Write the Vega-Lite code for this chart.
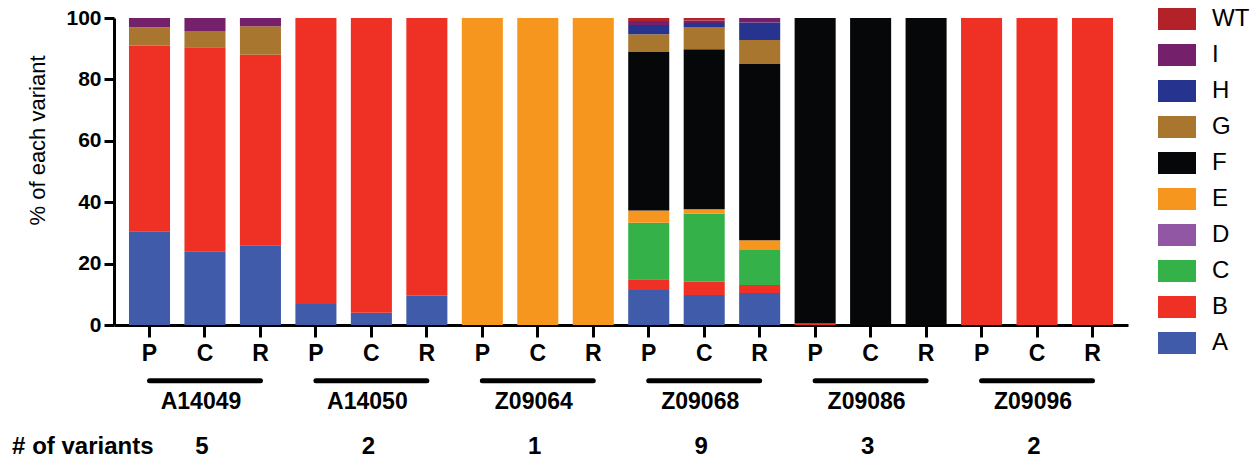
{
  "$schema": "https://vega.github.io/schema/vega-lite/v6.json",
  "width": 1014,
  "height": 307,
  "autosize": {"type": "none"},
  "padding": {"left": 114, "top": 18, "right": 132, "bottom": 138},
  "background": "white",
  "config": {
    "view": {"stroke": null},
    "font": "Liberation Sans",
    "axis": {"domainColor": "black", "tickColor": "black", "labelColor": "black", "titleColor": "black", "grid": false}
  },
  "datasets": {
    "bars": [
      {"sample": "A14049 P", "variant": "A", "pct": 30.5},
      {"sample": "A14049 P", "variant": "B", "pct": 60.5},
      {"sample": "A14049 P", "variant": "G", "pct": 6.0},
      {"sample": "A14049 P", "variant": "I", "pct": 3.0},
      {"sample": "A14049 C", "variant": "A", "pct": 24.0},
      {"sample": "A14049 C", "variant": "B", "pct": 66.5},
      {"sample": "A14049 C", "variant": "G", "pct": 5.3},
      {"sample": "A14049 C", "variant": "I", "pct": 4.2},
      {"sample": "A14049 R", "variant": "A", "pct": 26.0},
      {"sample": "A14049 R", "variant": "B", "pct": 62.0},
      {"sample": "A14049 R", "variant": "G", "pct": 9.3},
      {"sample": "A14049 R", "variant": "I", "pct": 2.7},
      {"sample": "A14050 P", "variant": "A", "pct": 6.8},
      {"sample": "A14050 P", "variant": "B", "pct": 93.2},
      {"sample": "A14050 C", "variant": "A", "pct": 4.0},
      {"sample": "A14050 C", "variant": "B", "pct": 96.0},
      {"sample": "A14050 R", "variant": "A", "pct": 9.5},
      {"sample": "A14050 R", "variant": "B", "pct": 90.5},
      {"sample": "Z09064 P", "variant": "E", "pct": 100},
      {"sample": "Z09064 C", "variant": "E", "pct": 100},
      {"sample": "Z09064 R", "variant": "E", "pct": 100},
      {"sample": "Z09068 P", "variant": "A", "pct": 11.4},
      {"sample": "Z09068 P", "variant": "B", "pct": 3.5},
      {"sample": "Z09068 P", "variant": "C", "pct": 18.4},
      {"sample": "Z09068 P", "variant": "E", "pct": 4.0},
      {"sample": "Z09068 P", "variant": "F", "pct": 51.6},
      {"sample": "Z09068 P", "variant": "G", "pct": 5.8},
      {"sample": "Z09068 P", "variant": "H", "pct": 3.0},
      {"sample": "Z09068 P", "variant": "I", "pct": 1.3},
      {"sample": "Z09068 P", "variant": "WT", "pct": 1.0},
      {"sample": "Z09068 C", "variant": "A", "pct": 9.8},
      {"sample": "Z09068 C", "variant": "B", "pct": 4.3},
      {"sample": "Z09068 C", "variant": "C", "pct": 22.2},
      {"sample": "Z09068 C", "variant": "E", "pct": 1.4},
      {"sample": "Z09068 C", "variant": "F", "pct": 52.1},
      {"sample": "Z09068 C", "variant": "G", "pct": 7.1},
      {"sample": "Z09068 C", "variant": "H", "pct": 1.5},
      {"sample": "Z09068 C", "variant": "I", "pct": 0.8},
      {"sample": "Z09068 C", "variant": "WT", "pct": 0.8},
      {"sample": "Z09068 R", "variant": "A", "pct": 10.4},
      {"sample": "Z09068 R", "variant": "B", "pct": 2.6},
      {"sample": "Z09068 R", "variant": "C", "pct": 11.4},
      {"sample": "Z09068 R", "variant": "E", "pct": 3.2},
      {"sample": "Z09068 R", "variant": "F", "pct": 57.4},
      {"sample": "Z09068 R", "variant": "G", "pct": 7.8},
      {"sample": "Z09068 R", "variant": "H", "pct": 5.7},
      {"sample": "Z09068 R", "variant": "I", "pct": 1.5},
      {"sample": "Z09086 P", "variant": "B", "pct": 0.5},
      {"sample": "Z09086 P", "variant": "F", "pct": 99.5},
      {"sample": "Z09086 C", "variant": "F", "pct": 100},
      {"sample": "Z09086 R", "variant": "F", "pct": 100},
      {"sample": "Z09096 P", "variant": "B", "pct": 100},
      {"sample": "Z09096 C", "variant": "B", "pct": 100},
      {"sample": "Z09096 R", "variant": "B", "pct": 100}
    ],
    "groups": [
      {"group": "A14049", "first": "A14049 P", "mid": "A14049 C", "last": "A14049 R", "variants": "5"},
      {"group": "A14050", "first": "A14050 P", "mid": "A14050 C", "last": "A14050 R", "variants": "2"},
      {"group": "Z09064", "first": "Z09064 P", "mid": "Z09064 C", "last": "Z09064 R", "variants": "1"},
      {"group": "Z09068", "first": "Z09068 P", "mid": "Z09068 C", "last": "Z09068 R", "variants": "9"},
      {"group": "Z09086", "first": "Z09086 P", "mid": "Z09086 C", "last": "Z09086 R", "variants": "3"},
      {"group": "Z09096", "first": "Z09096 P", "mid": "Z09096 C", "last": "Z09096 R", "variants": "2"}
    ],
    "caption": [
      {"sample": "A14049 P", "text": "# of variants"}
    ]
  },
  "layer": [
    {
      "data": {"name": "bars"},
      "mark": {"type": "bar"},
      "encoding": {
        "x": {
          "field": "sample",
          "type": "nominal",
          "scale": {
            "domain": ["A14049 P", "A14049 C", "A14049 R", "A14050 P", "A14050 C", "A14050 R", "Z09064 P", "Z09064 C", "Z09064 R", "Z09068 P", "Z09068 C", "Z09068 R", "Z09086 P", "Z09086 C", "Z09086 R", "Z09096 P", "Z09096 C", "Z09096 R"],
            "paddingInner": 0.26,
            "paddingOuter": 0.27
          },
          "axis": {
            "title": null,
            "labelExpr": "slice(datum.label, -1)",
            "labelAngle": 0,
            "labelFontSize": 23,
            "labelFontWeight": "bold",
            "labelPadding": 5,
            "domainWidth": 3,
            "tickWidth": 3,
            "tickSize": 12
          }
        },
        "y": {
          "field": "pct",
          "type": "quantitative",
          "stack": "zero",
          "scale": {"domain": [0, 100], "nice": false},
          "axis": {
            "title": "% of each variant",
            "titleFontSize": 22,
            "titleFontWeight": "normal",
            "titlePadding": 16,
            "titleY": 122,
            "values": [0, 20, 40, 60, 80, 100],
            "labelFontSize": 21,
            "labelFontWeight": "bold",
            "labelPadding": 3,
            "domainWidth": 3,
            "tickWidth": 3,
            "tickSize": 10
          }
        },
        "color": {
          "field": "variant",
          "type": "nominal",
          "scale": {
            "domain": ["WT", "I", "H", "G", "F", "E", "D", "C", "B", "A"],
            "range": ["#b22228", "#74206a", "#27348f", "#a8762e", "#050709", "#f7961f", "#9257a4", "#35b14a", "#ee3124", "#3f5ba9"]
          },
          "legend": {
            "title": null,
            "orient": "none",
            "legendX": 1044,
            "legendY": -18,
            "padding": 0,
            "symbolType": "M-1,-0.58H1V0.58H-1Z",
            "symbolSize": 1444,
            "symbolStrokeWidth": 0,
            "symbolOpacity": 1,
            "rowPadding": 5,
            "labelFontSize": 24,
            "labelColor": "black",
            "labelOffset": 16,
            "labelFont": "Liberation Sans"
          }
        },
        "order": {"field": "variant", "type": "nominal", "sort": "ascending"}
      }
    },
    {
      "data": {"name": "groups"},
      "mark": {"type": "rule", "strokeWidth": 5, "strokeCap": "round", "color": "black"},
      "encoding": {
        "x": {"field": "first", "type": "nominal"},
        "x2": {"field": "last"},
        "y": {"datum": -18.2}
      }
    },
    {
      "data": {"name": "groups"},
      "mark": {"type": "text", "fontSize": 23, "fontWeight": "bold", "color": "black", "baseline": "middle", "align": "center", "dx": -4},
      "encoding": {
        "x": {"field": "mid", "type": "nominal"},
        "y": {"datum": -25},
        "text": {"field": "group"}
      }
    },
    {
      "data": {"name": "groups"},
      "mark": {"type": "text", "fontSize": 24, "fontWeight": "bold", "color": "black", "baseline": "middle", "align": "center", "dx": -3},
      "encoding": {
        "x": {"field": "mid", "type": "nominal"},
        "y": {"datum": -39.7},
        "text": {"field": "variants"}
      }
    },
    {
      "data": {"name": "caption"},
      "mark": {"type": "text", "fontSize": 24, "fontWeight": "bold", "color": "black", "baseline": "middle", "align": "right", "dx": 4},
      "encoding": {
        "x": {"field": "sample", "type": "nominal"},
        "y": {"datum": -39.7},
        "text": {"field": "text"}
      }
    }
  ]
}
